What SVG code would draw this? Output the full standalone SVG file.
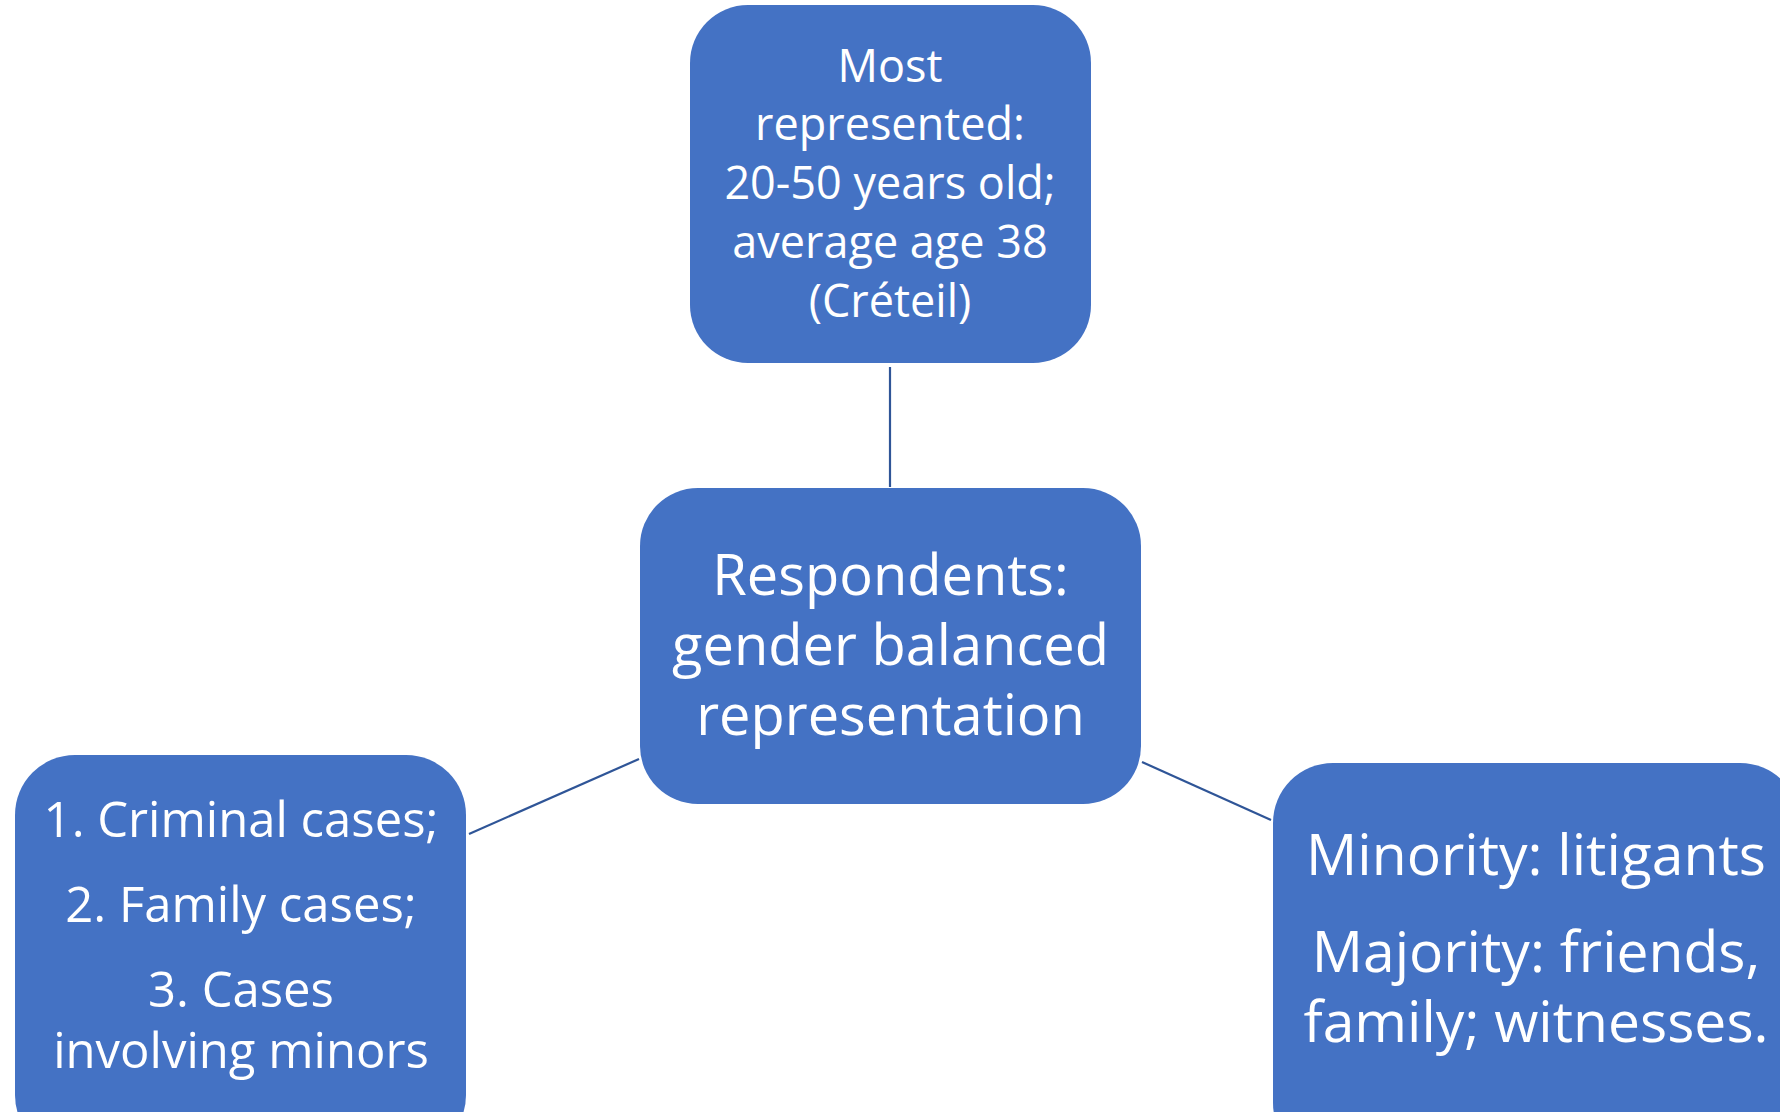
<svg xmlns="http://www.w3.org/2000/svg" width="1780" height="1112" viewBox="0 0 1780 1112">
<style>
.box{fill:#4472C4;}
.t{fill:#FFFFFF;font-family:"Open Sans","Liberation Sans",sans-serif;text-anchor:middle;}
.conn{stroke:#2F5597;stroke-width:2.2;fill:none;}
</style>
<rect width="1780" height="1112" fill="#FFFFFF"/>
<g id="connectors">
<line class="conn" x1="890" y1="367" x2="890" y2="487"/>
<line class="conn" x1="469" y1="834" x2="639" y2="759"/>
<line class="conn" x1="1142" y1="762" x2="1271" y2="820"/>
</g>
<g id="node-top">
<rect class="box" x="690" y="5" width="401" height="358" rx="58"/>
<text class="t" font-size="45"><tspan x="890" y="82">Most</tspan><tspan x="890" y="140">represented:</tspan><tspan x="890" y="199">20-50 years old;</tspan><tspan x="890" y="258">average age 38</tspan><tspan x="890" y="317">(Créteil)</tspan></text>
</g>
<g id="node-center">
<rect class="box" x="640" y="488" width="501" height="316" rx="58"/>
<text class="t" font-size="56"><tspan x="890.5" y="595">Respondents:</tspan><tspan x="890.5" y="665">gender balanced</tspan><tspan x="890.5" y="735">representation</tspan></text>
</g>
<g id="node-left">
<rect class="box" x="15" y="755" width="451" height="400" rx="60"/>
<text class="t" font-size="49"><tspan x="241" y="837">1. Criminal cases;</tspan><tspan x="241" y="922">2. Family cases;</tspan><tspan x="241" y="1007">3. Cases</tspan><tspan x="241" y="1068">involving minors</tspan></text>
</g>
<g id="node-right">
<rect class="box" x="1273" y="763" width="527" height="400" rx="60"/>
<text class="t" font-size="57"><tspan x="1536" y="875">Minority: litigants</tspan><tspan x="1536" y="972">Majority: friends,</tspan><tspan x="1536" y="1042">family; witnesses.</tspan></text>
</g>
</svg>
